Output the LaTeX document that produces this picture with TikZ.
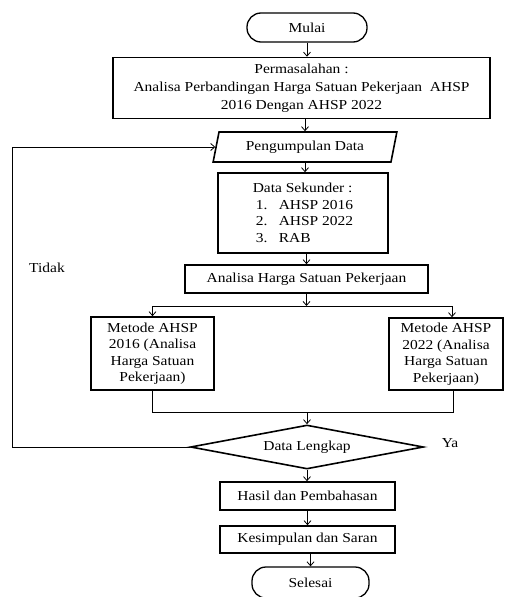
\documentclass[tikz,border=0pt]{standalone}
\usepackage{fontspec}
\setmainfont{Liberation Serif}[FakeStretch=1.13]
\usetikzlibrary{arrows.meta,shapes.geometric}
\begin{document}
\begin{tikzpicture}[x=1pt,y=-1pt,
  every node/.style={font=\fontsize{13.7}{16.5}\selectfont, inner sep=0pt},
  box/.style={draw, line width=1.6pt, align=center},
  term/.style={draw, line width=1.3pt, rounded corners=14pt},
  arr/.style={line width=0.8pt, -{Straight Barb[length=4pt,width=7pt]}},
  ln/.style={line width=0.8pt}]
\useasboundingbox (0,0) rectangle (510,597);

\node[term, minimum width=120pt, minimum height=29pt] (mulai) at (307,27.5) {Mulai};
\node[box, minimum width=377pt, minimum height=61pt, font=\fontsize{13.7}{18}\selectfont] (perm) at (301.5,88)
  {Permasalahan :\\ Analisa Perbandingan Harga Satuan Pekerjaan\ \ AHSP\\ 2016 Dengan AHSP 2022};
\node[trapezium, trapezium left angle=72, trapezium right angle=108, trapezium stretches=true,
  draw, line width=1.6pt, minimum width=184pt, minimum height=30pt] (peng) at (305,147) {Pengumpulan Data};
\node[box, minimum width=170pt, minimum height=80pt, align=left] (sek) at (303,213)
  {Data Sekunder :\\
   \hspace*{3pt}\makebox[23pt][l]{1.}AHSP 2016\\
   \hspace*{3pt}\makebox[23pt][l]{2.}AHSP 2022\\
   \hspace*{3pt}\makebox[23pt][l]{3.}RAB};
\node[box, minimum width=243pt, minimum height=28pt] (ana) at (306.5,279) {Analisa Harga Satuan Pekerjaan};

\coordinate (brl) at (152.5,306);
\coordinate (brm) at (306.5,306);
\coordinate (brr) at (452,306);

\node[box, minimum width=123pt, minimum height=73pt] (m1) at (152.5,353.5)
  {Metode AHSP\\ 2016 (Analisa\\ Harga Satuan\\ Pekerjaan)};
\node[box, minimum width=114pt, minimum height=72pt] (m2) at (446,354)
  {Metode AHSP\\ 2022 (Analisa\\ Harga Satuan\\ Pekerjaan)};

\coordinate (mgl) at (152.5,412);
\coordinate (mg) at (307,412);
\coordinate (mgr) at (453,412);

\node[diamond, shape aspect=5.3, draw, line width=1.6pt, minimum width=233pt, minimum height=44pt] (dia) at (307,447) {Data Lengkap};
\coordinate (fb) at (12,447);

\node (tidak) at (47,268) {Tidak};
\node (ya) at (450,443) {Ya};

\node[box, minimum width=175pt, minimum height=28pt] (hasil) at (307.5,496) {Hasil dan Pembahasan};
\node[box, minimum width=175pt, minimum height=27pt] (kes) at (307.5,539.5) {Kesimpulan dan Saran};
\node[term, minimum width=117pt, minimum height=31pt] (sel) at (310.5,582.5) {Selesai};

\draw[arr] (mulai.south) -- (mulai.south |- perm.north);
\draw[arr] (peng.north |- perm.south) -- (peng.north);
\draw[arr] (peng.south) -- (peng.south |- sek.north);
\draw[arr] (ana.north |- sek.south) -- (ana.north);
\draw[arr] (ana.south) -- (brm);
\draw[ln] (brl) -- (brr);
\draw[arr] (brl) -- (m1.north);
\draw[arr] (brr) -- (brr |- m2.north);
\draw[ln] (m1.south) -- (mgl) -- (mgr) -- (mgr |- m2.south);
\draw[arr] (mg) -- (dia.north);
\draw[arr] (dia.west) -- (fb) |- (peng.west);
\draw[arr] (dia.south) -- (dia.south |- hasil.north);
\draw[arr] (hasil.south) -- (kes.north);
\draw[arr] (sel.north |- kes.south) -- (sel.north);
\end{tikzpicture}
\end{document}
